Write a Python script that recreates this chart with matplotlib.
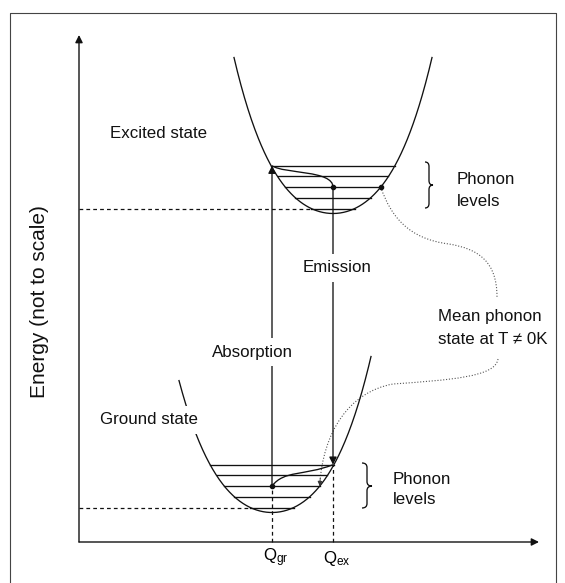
import numpy as np
import matplotlib
matplotlib.use('Agg')
import matplotlib.pyplot as plt
from matplotlib.path import Path
from matplotlib.patches import PathPatch

plt.rcParams['font.family'] = ['Liberation Sans', 'DejaVu Sans']
plt.rcParams['mathtext.fontset'] = 'custom'
plt.rcParams['mathtext.rm'] = 'Liberation Sans'
plt.rcParams['mathtext.it'] = 'Liberation Sans'

W, H, DPI = 565, 583, 100
ORIGIN_PX = (79, 542)          # where the two axes meet, in image pixels

# ---- diagram quantities (configuration coordinate Q, energy E; arbitrary units) ----
Q_GR = 193.0                   # equilibrium coordinate of the ground state
Q_EX = 254.0                   # equilibrium coordinate of the excited state
E_MIN = {"ground": 29.5, "excited": 328.5}
LEVEL_OFFSETS = [47.8, 37.1, 26.4, 15.7, 5.0]   # phonon levels above each minimum
SHAPE_A, SHAPE_B = 0.010274, 5.755e-7           # well shape E = Emin + A h^2 + B h^4
ARMS = {"ground": (-93.0, 99.0), "excited": (-99.0, 99.0)}
CENTERS = {"ground": Q_GR, "excited": Q_EX}
AXIS_TOP, AXIS_RIGHT = 507, 460
LABEL_FS = 12.2

INK = "#111111"


def well(h, emin):
    return emin + SHAPE_A * h ** 2 + SHAPE_B * h ** 4


def half_width(dE):
    u = (-SHAPE_A + np.sqrt(SHAPE_A ** 2 + 4 * SHAPE_B * dE)) / (2 * SHAPE_B)
    return np.sqrt(u)


fig = plt.figure(figsize=(W / DPI, H / DPI), dpi=DPI)
ax = fig.add_axes([0, 0, 1, 1])
ax.set_xlim(-ORIGIN_PX[0], W - ORIGIN_PX[0])
ax.set_ylim(ORIGIN_PX[1] - H, ORIGIN_PX[1])
ax.axis("off")

# outer frame (cut at the bottom of the image)
fx0, fx1, fy1 = 10 - ORIGIN_PX[0], 556 - ORIGIN_PX[0], ORIGIN_PX[1] - 13
ax.plot([fx0, fx0, fx1, fx1], [-60, fy1, fy1, -60], color="#444444", lw=0.8)

# axes with arrows
ax.annotate("", xy=(0, AXIS_TOP), xytext=(0, 0),
            arrowprops=dict(arrowstyle="-|>", color=INK, lw=1.0, mutation_scale=11,
                            shrinkA=0, shrinkB=0))
ax.annotate("", xy=(AXIS_RIGHT, 0), xytext=(0, 0),
            arrowprops=dict(arrowstyle="-|>", color=INK, lw=1.0, mutation_scale=11,
                            shrinkA=0, shrinkB=0))

# potential wells and phonon levels
for state in ("ground", "excited"):
    c, emin = CENTERS[state], E_MIN[state]
    h = np.linspace(ARMS[state][0], ARMS[state][1], 400)
    ax.plot(c + h, well(h, emin), color=INK, lw=0.95, zorder=2)
    for off in LEVEL_OFFSETS:
        hw = half_width(off)
        ax.plot([c - hw, c + hw], [emin + off, emin + off], color=INK, lw=0.95, zorder=2)
    # dashed reference line at the lowest level
    low = LEVEL_OFFSETS[-1]
    ax.plot([0, c - half_width(low)], [emin + low] * 2, color=INK, lw=0.9,
            ls=(0, (3, 2.5)), zorder=2)

e_abs_start = E_MIN["ground"] + LEVEL_OFFSETS[2]
e_abs_end = E_MIN["excited"] + LEVEL_OFFSETS[0]
e_em_start = E_MIN["excited"] + LEVEL_OFFSETS[2]
e_em_end = E_MIN["ground"] + LEVEL_OFFSETS[0]

# vertical dashed projections to the Q axis
ax.plot([Q_GR, Q_GR], [0, e_abs_start], color=INK, lw=0.9, ls=(0, (3, 2.5)))
ax.plot([Q_EX, Q_EX], [0, e_em_end], color=INK, lw=0.9, ls=(0, (3, 2.5)))

# absorption and emission arrows
ax.annotate("", xy=(Q_GR, e_abs_end), xytext=(Q_GR, e_abs_start),
            arrowprops=dict(arrowstyle="-|>", color=INK, lw=0.95, mutation_scale=11,
                            shrinkA=0, shrinkB=0), zorder=3)
ax.annotate("", xy=(Q_EX, e_em_end), xytext=(Q_EX, e_em_start),
            arrowprops=dict(arrowstyle="-|>", color=INK, lw=0.95, mutation_scale=11,
                            shrinkA=0, shrinkB=0), zorder=3)


def bezier(points, **kw):
    codes = [Path.MOVETO] + [Path.CURVE4] * (len(points) - 1)
    ax.add_patch(PathPatch(Path(points, codes), fill=False, **kw))


# relaxation paths
bezier([(Q_GR, e_abs_end), (205, 368), (Q_EX, 372), (Q_EX, e_em_start)],
       edgecolor=INK, lw=0.95, zorder=3)
bezier([(Q_EX, e_em_end), (225, 66), (205, 72), (Q_GR, e_abs_start)],
       edgecolor=INK, lw=0.95, zorder=3)

# mean phonon state markers
hw3 = half_width(LEVEL_OFFSETS[2])
ax.plot([Q_GR, Q_EX, Q_EX + hw3], [e_abs_start, e_em_start, e_em_start], "o",
        color=INK, ms=3, zorder=4)

# dotted leaders to the "Mean phonon state" note
dot_kw = dict(edgecolor="#555555", lw=0.8, ls=(0, (1, 1.6)), zorder=1)
bezier([(Q_EX + hw3, e_em_start), (312, 325), (330, 303), (370, 298),
        (400, 293), (418, 280), (418, 245)], **dot_kw)
bezier([(419, 183), (417, 165), (370, 162), (314, 158),
        (270, 150), (244, 110), (Q_GR + hw3, e_abs_start + 1)], **dot_kw)
ax.annotate("", xy=(Q_GR + hw3, e_abs_start), xytext=(Q_GR + hw3 + 0.5, e_abs_start + 8),
            arrowprops=dict(arrowstyle="-|>", color="#333333", lw=0.6, mutation_scale=7,
                            shrinkA=0, shrinkB=0))


def brace(x0, x1, ytop, ybot, ymid):
    xm = (x0 + x1) / 2
    r = 4.5
    verts = [(x0, ytop), (xm, ytop), (xm, ytop - r),
             (xm, ymid + r), (xm, ymid), (x1, ymid),
             (xm, ymid), (xm, ymid - r),
             (xm, ybot + r), (xm, ybot), (x0, ybot)]
    codes = [Path.MOVETO, Path.CURVE3, Path.CURVE3,
             Path.LINETO, Path.CURVE3, Path.CURVE3,
             Path.CURVE3, Path.CURVE3,
             Path.LINETO, Path.CURVE3, Path.CURVE3]
    ax.add_patch(PathPatch(Path(verts, codes), fill=False, edgecolor=INK, lw=0.95))


brace(346, 354, 380, 334, e_em_start + 2)
brace(283, 293, 79, 34, e_abs_start)

# texts
tkw = dict(fontsize=LABEL_FS, color=INK, va="center", ha="left")
wbox = dict(facecolor="white", edgecolor="none", pad=5)
ax.text(31, 409, "Excited state", **tkw)
ax.text(21, 122, "Ground state", bbox=wbox, zorder=5, **tkw)
ax.text(133, 190, "Absorption", bbox=wbox, zorder=5, **tkw)
ax.text(224, 274, "Emission", bbox=wbox, zorder=5, **tkw)
ax.text(378, 362, "Phonon", **tkw)
ax.text(378, 340, "levels", **tkw)
ax.text(314, 63, "Phonon", **tkw)
ax.text(314, 42, "levels", **tkw)
ax.text(359, 225, "Mean phonon", **tkw)
ax.text(359, 203, "state at T \u2260 0K", **tkw)
ax.text(Q_GR + 4, -16, r"$\mathregular{Q_{gr}}$", fontsize=LABEL_FS, ha="center", va="center")
ax.text(Q_EX + 4, -16, r"$\mathregular{Q_{ex}}$", fontsize=LABEL_FS, ha="center", va="center")
ax.text(-39, 240, "Energy (not to scale)", rotation=90, fontsize=15,
        ha="center", va="center", color=INK)

fig.savefig("out.png", dpi=DPI, facecolor="white")
